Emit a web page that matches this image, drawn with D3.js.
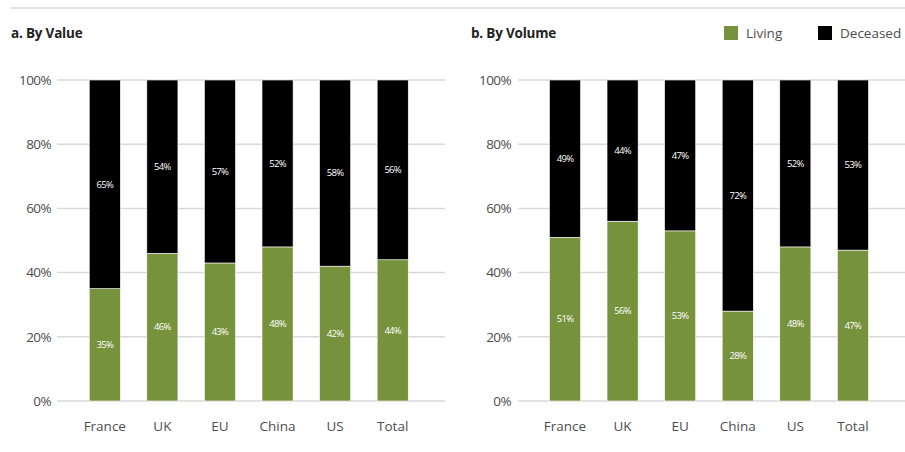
<!DOCTYPE html>
<html><head><meta charset="utf-8">
<script src="https://cdn.jsdelivr.net/npm/d3@7"></script>
<style>
html,body{margin:0;padding:0;background:#fff;}
svg{display:block;font-family:"Open Sans",sans-serif;}
</style></head>
<body><svg id="c" width="905" height="452"></svg>
<script>
const categories = ["France","UK","EU","China","US","Total"];
const valueLiving = [35,46,43,48,42,44];
const valueDeceased = [65,54,57,52,58,56];
const volumeLiving = [51,56,53,28,48,47];
const volumeDeceased = [49,44,47,72,52,53];
const yTicks = [0,20,40,60,80,100];
const seriesNames = ["Living","Deceased"];

const GREEN = "#76923c", BLACK = "#000000", GRID = "#d9d9d9", TXT = "#4d4d4d";
const svg = d3.select("#c");

// top rule
svg.append("line").attr("x1",11).attr("x2",905).attr("y1",8).attr("y2",8)
  .attr("stroke","#e3e3e3").attr("stroke-width",2);

const y = d3.scaleLinear().domain([0,100]).range([401,80]);

function panel(opts){
  const g = svg.append("g");
  g.append("text").attr("x",opts.titleX).attr("y",38).text(opts.title)
    .attr("font-weight","700").attr("font-size",13.5).attr("letter-spacing","-0.2").attr("fill","#222");
  g.selectAll("line.grid").data(yTicks).join("line").attr("class","grid")
    .attr("x1",opts.gridX0).attr("x2",opts.gridX1)
    .attr("y1",d=>y(d)).attr("y2",d=>y(d))
    .attr("stroke",GRID).attr("stroke-width",1.5);
  g.selectAll("text.yl").data(yTicks).join("text").attr("class","yl")
    .attr("x",opts.labelX).attr("y",d=>y(d)).attr("dy","0.35em")
    .attr("text-anchor","end").attr("font-size",13.5).attr("fill",TXT)
    .attr("letter-spacing","-0.6").text(d=>d+"%");
  const x = d3.scaleBand().domain(categories).range(opts.band)
    .paddingInner(0.46).paddingOuter(0.23);
  const rows = categories.map((c,i)=>({c, living:opts.living[i], deceased:opts.deceased[i]}));
  const stack = d3.stack().keys(["living","deceased"])(rows);
  const color = {living:GREEN, deceased:BLACK};
  stack.forEach(s=>{
    g.selectAll(null).data(s).join("rect")
      .attr("x",d=>x(d.data.c)).attr("width",x.bandwidth())
      .attr("y",d=>y(d[1])).attr("height",d=>y(d[0])-y(d[1]))
      .attr("fill",color[s.key]).attr("stroke","#fff").attr("stroke-width",0.6);
    g.selectAll(null).data(s).join("text")
      .attr("x",d=>x(d.data.c)+x.bandwidth()/2)
      .attr("y",d=>(y(d[0])+y(d[1]))/2).attr("dy","0.35em")
      .attr("text-anchor","middle").attr("font-size",9.5).attr("fill","#fff")
      .attr("letter-spacing","-0.7")
      .text(d=>d.data[s.key]+"%");
  });
  g.selectAll("text.xl").data(categories).join("text").attr("class","xl")
    .attr("x",d=>x(d)+x.bandwidth()/2).attr("y",431)
    .attr("text-anchor","middle").attr("font-size",13.5).attr("fill",TXT).text(d=>d);
}

panel({title:"a. By Value", titleX:11, gridX0:57, gridX1:445, labelX:51,
  band:[76,421.5], living:valueLiving, deceased:valueDeceased});
panel({title:"b. By Volume", titleX:471, gridX0:518, gridX1:905, labelX:511,
  band:[536.2,881.7], living:volumeLiving, deceased:volumeDeceased});

const leg = svg.append("g");
const legX = [724, 818];
seriesNames.forEach((n,i)=>{
  leg.append("rect").attr("x",legX[i]).attr("y",26).attr("width",14).attr("height",14)
    .attr("fill",i===0?GREEN:BLACK);
  leg.append("text").attr("x",legX[i]+22).attr("y",33).attr("dy","0.35em")
    .attr("font-size",13.5).attr("fill",TXT).text(n);
});
</script></body></html>
